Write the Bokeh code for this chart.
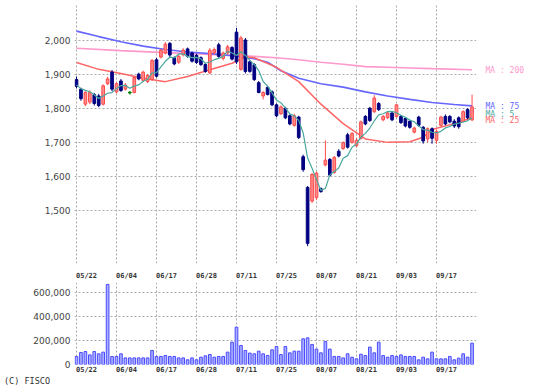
from bokeh.plotting import figure
from bokeh.layouts import column, row
from bokeh.models import Range1d, FixedTicker, NumeralTickFormatter, ColumnDataSource, Div
from bokeh.embed import file_html
from bokeh.resources import INLINE
from bokeh.core.properties import value

# ---------------- data ----------------
tick_idx = [0, 9, 18, 27, 36, 45, 54, 63, 72, 81]
tick_labels = ["05/22", "06/04", "06/17", "06/28", "07/11", "07/25", "08/07", "08/21", "09/03", "09/17"]
price_ticks = [1500, 1600, 1700, 1800, 1900, 2000]
volume_ticks = [0, 200000, 400000, 600000]

opens = [1884, 1856, 1812, 1818, 1840, 1836, 1812, 1872, 1906, 1848,
         1880, 1856, 1846, 1846, 1900, 1882, 1878, 1884, 1942, 1950,
         1962, 1990, 1948, 1935, 1957, 1974, 1962, 1955, 1948, 1928,
         1904, 1962, 1986, 1946, 1962, 1978, 2023, 1914, 2000, 1936,
         1928, 1875, 1836, 1861, 1848, 1810, 1784, 1800, 1778, 1750,
         1774, 1658, 1568, 1528, 1538, 1564, 1634, 1650, 1612, 1674,
         1682, 1722, 1700, 1690, 1712, 1776, 1800, 1790, 1814, 1766,
         1772, 1786, 1776, 1776, 1770, 1762, 1730, 1774, 1744, 1710,
         1740, 1706, 1750, 1776, 1776, 1762, 1772, 1762, 1796, 1766]
highs = [1893, 1860, 1850, 1852, 1845, 1842, 1870, 1892, 1912, 1876,
         1886, 1874, 1850, 1894, 1904, 1910, 1900, 1944, 1948, 1974,
         1994, 1994, 1952, 1958, 1976, 1978, 1966, 1960, 1952, 1932,
         1976, 1978, 1992, 1966, 1986, 1982, 2035, 2012, 2006, 1940,
         1932, 1880, 1850, 1866, 1852, 1814, 1808, 1804, 1782, 1784,
         1778, 1664, 1572, 1610, 1614, 1568, 1706, 1654, 1660, 1680,
         1702, 1728, 1730, 1712, 1764, 1780, 1804, 1838, 1818, 1780,
         1790, 1790, 1812, 1780, 1774, 1766, 1746, 1778, 1748, 1744,
         1744, 1738, 1778, 1782, 1780, 1768, 1776, 1794, 1800, 1840]
lows = [1858, 1822, 1806, 1812, 1808, 1803, 1808, 1868, 1850, 1844,
        1848, 1852, 1840, 1844, 1882, 1878, 1874, 1880, 1890, 1946,
        1958, 1950, 1926, 1930, 1952, 1948, 1934, 1930, 1924, 1904,
        1900, 1958, 1948, 1940, 1958, 1940, 1930, 1910, 1902, 1904,
        1880, 1844, 1826, 1838, 1806, 1774, 1780, 1768, 1750, 1746,
        1710, 1614, 1396, 1522, 1532, 1552, 1630, 1600, 1608, 1656,
        1678, 1682, 1696, 1686, 1708, 1750, 1760, 1786, 1792, 1762,
        1768, 1762, 1772, 1754, 1744, 1740, 1726, 1746, 1696, 1700,
        1696, 1696, 1746, 1750, 1756, 1742, 1740, 1758, 1768, 1762]
closes = [1864, 1828, 1846, 1846, 1814, 1808, 1866, 1886, 1856, 1872,
          1852, 1868, 1846, 1890, 1886, 1906, 1896, 1940, 1894, 1970,
          1988, 1956, 1930, 1952, 1970, 1952, 1938, 1934, 1928, 1908,
          1970, 1972, 1952, 1962, 1980, 1944, 1936, 2006, 1908, 1908,
          1884, 1846, 1846, 1840, 1810, 1778, 1804, 1772, 1754, 1778,
          1714, 1620, 1404, 1606, 1610, 1556, 1648, 1604, 1656, 1660,
          1700, 1686, 1726, 1706, 1760, 1754, 1764, 1830, 1796, 1776,
          1786, 1766, 1810, 1758, 1748, 1744, 1742, 1750, 1704, 1740,
          1712, 1732, 1774, 1754, 1760, 1748, 1746, 1790, 1772, 1804]
prior_closes = [1880, 1872, 1866, 1858]

volumes = [67000, 100000, 108000, 80000, 108000, 89000, 103000, 667000, 67000, 67000,
           89000, 55000, 55000, 55000, 55000, 55000, 55000, 117000, 67000, 67000,
           75000, 67000, 67000, 55000, 55000, 39000, 55000, 39000, 61000, 72000,
           83000, 61000, 67000, 67000, 103000, 186000, 311000, 158000, 117000, 95000,
           89000, 111000, 89000, 75000, 122000, 150000, 83000, 150000, 97000, 111000,
           111000, 214000, 222000, 167000, 128000, 97000, 192000, 128000, 67000, 67000,
           55000, 89000, 61000, 47000, 86000, 75000, 145000, 97000, 186000, 75000,
           61000, 75000, 67000, 80000, 67000, 67000, 67000, 39000, 61000, 47000,
           103000, 47000, 47000, 47000, 67000, 39000, 53000, 89000, 61000, 178000]

ma25_idx = [0, 5, 10, 15, 20, 25, 30, 35, 38, 40, 45, 50, 55, 60, 65, 70, 75, 78, 80, 85, 89]
ma25_val = [1934, 1914, 1902, 1888, 1878, 1893, 1913, 1932, 1950, 1948, 1920, 1878, 1812,
            1755, 1710, 1700, 1702, 1715, 1738, 1755, 1772]
ma75_idx = [0, 5, 10, 15, 20, 25, 30, 35, 40, 43, 46, 50, 55, 60, 65, 70, 75, 80, 85, 89]
ma75_val = [2026, 2010, 1995, 1982, 1972, 1965, 1960, 1954, 1945, 1935, 1910, 1888, 1872,
            1862, 1848, 1836, 1826, 1817, 1811, 1807]
ma200_idx = [0, 10, 20, 30, 40, 45, 50, 55, 60, 65, 70, 75, 80, 89]
ma200_val = [1976, 1969, 1963, 1958, 1952, 1948, 1942, 1935, 1929, 1922, 1920, 1918, 1916, 1913]

ma_labels = ["MA : 200", "MA : 75", "MA : 5", "MA : 25"]
ma_label_y = [1910, 1804, 1783, 1763]
ma_label_colors = ["#ff99cc", "#6666ff", "#4aa89e", "#ff6666"]
copyright_text = "(C) FISCO"

# ---------------- derived ----------------
n = len(closes)
idx = list(range(n))
all_c = prior_closes + closes
ma5 = [sum(all_c[i:i + 5]) / 5 for i in range(n)]

UP_FILL, UP_LINE = "#ff8a8a", "#ff4a4a"
DN_FILL, DN_LINE = "#000080", "#000080"
EQ = "#008000"
fills, lines = [], []
for o, c in zip(opens, closes):
    if c > o:
        fills.append(UP_FILL); lines.append(UP_LINE)
    elif c < o:
        fills.append(DN_FILL); lines.append(DN_LINE)
    else:
        fills.append(EQ); lines.append(EQ)

src = ColumnDataSource(dict(
    x=idx, o=opens, h=highs, l=lows, c=closes,
    top=[max(o, c) + (1.5 if o == c else 0) for o, c in zip(opens, closes)],
    bot=[min(o, c) - (1.5 if o == c else 0) for o, c in zip(opens, closes)],
    fill=fills, line=lines, vol=volumes,
))

GRID = "#aaaaaa"
label_shift = 2.25
axis_ticks = [t + label_shift for t in tick_idx]
overrides = {t + label_shift: s for t, s in zip(tick_idx, tick_labels)}

x_range = Range1d(-0.45, 90.0)
price_range = Range1d(1345, 2107)

LEFT = 74
MAIN_W = 476
TOTAL_W = 537


def style(fig):
    fig.outline_line_color = None
    fig.background_fill_color = "white"
    fig.border_fill_color = "white"
    for ax in fig.axis:
        ax.axis_line_color = None
        ax.major_tick_line_color = None
        ax.minor_tick_line_color = None
        ax.major_tick_out = 0
        ax.major_tick_in = 0
    fig.grid.grid_line_color = GRID
    fig.grid.grid_line_dash = "2 2"
    fig.grid.grid_line_width = 1
    fig.xaxis.ticker = FixedTicker(ticks=axis_ticks)
    fig.xaxis.major_label_overrides = overrides
    fig.xaxis.major_label_text_font = "DejaVu Sans Mono"
    fig.xaxis.major_label_text_font_style = "bold"
    fig.xaxis.major_label_text_font_size = "7px"
    fig.xaxis.major_label_text_color = "#333333"
    fig.xgrid.ticker = FixedTicker(ticks=tick_idx)
    fig.yaxis.formatter = NumeralTickFormatter(format="0,0")
    fig.yaxis.major_label_text_font = "DejaVu Sans"
    fig.yaxis.major_label_text_font_size = "9px"
    fig.yaxis.major_label_text_color = "#444444"
    fig.yaxis.major_label_standoff = 4


def blank(fig):
    fig.outline_line_color = None
    fig.background_fill_color = "white"
    fig.border_fill_color = "white"
    fig.grid.visible = False


# ---------------- main price chart ----------------
p = figure(width=MAIN_W, height=282, x_range=x_range, y_range=price_range,
           output_backend="svg", toolbar_location=None,
           min_border_left=LEFT, min_border_right=0, min_border_top=3, min_border_bottom=16)
style(p)
p.yaxis.ticker = FixedTicker(ticks=price_ticks)
p.ygrid.ticker = FixedTicker(ticks=price_ticks)
p.xaxis.major_label_standoff = 8

p.line(ma200_idx, ma200_val, line_color="#ff99cc", line_width=1.6)
p.line(ma75_idx, ma75_val, line_color="#6666ff", line_width=1.6)
p.line(ma25_idx, ma25_val, line_color="#ff6666", line_width=1.5)

p.segment(x0="x", y0="l", x1="x", y1="h", source=src, line_color="line", line_width=1)
p.vbar(x="x", top="top", bottom="bot", width=0.6, source=src,
       fill_color="fill", line_color="line", line_width=1)

p.line(idx, ma5, line_color="#4aa89e", line_width=1.2)

# ---------------- side legend (MA labels) ----------------
side = figure(width=TOTAL_W - MAIN_W, height=282, x_range=Range1d(0, TOTAL_W - MAIN_W),
              y_range=price_range, output_backend="svg", toolbar_location=None,
              x_axis_location=None, y_axis_location=None,
              min_border_left=0, min_border_right=0, min_border_top=3, min_border_bottom=16)
blank(side)
side.text(x=[9] * len(ma_labels), y=ma_label_y, text=ma_labels, text_color=ma_label_colors,
          text_font=value("DejaVu Sans Mono"), text_font_size="8px",
          text_baseline="middle", text_align="left")

# ---------------- volume chart ----------------
v = figure(width=TOTAL_W, height=94, x_range=x_range, y_range=Range1d(0, 683000),
           output_backend="svg", toolbar_location=None,
           min_border_left=LEFT, min_border_right=TOTAL_W - MAIN_W, min_border_top=0,
           min_border_bottom=12)
style(v)
v.yaxis.ticker = FixedTicker(ticks=volume_ticks)
v.ygrid.ticker = FixedTicker(ticks=volume_ticks[1:])
v.xaxis.major_label_standoff = 1

v.vbar(x="x", top="vol", bottom=0, width=0.6, source=src,
       fill_color="#aab0ff", line_color="#4a4aff", line_width=1)

# ---------------- copyright line ----------------
foot = Div(text=copyright_text, width=200, height=15, margin=(0, 0, 0, 0),
           styles={"font-family": "'DejaVu Sans Mono', monospace", "font-size": "8.5px",
                   "color": "#333333", "line-height": "11px", "padding-left": "4px",
                   "white-space": "pre"})

layout = column(row(p, side, spacing=0), v, foot, spacing=0)
open("out.html", "w").write(file_html(layout, INLINE))
